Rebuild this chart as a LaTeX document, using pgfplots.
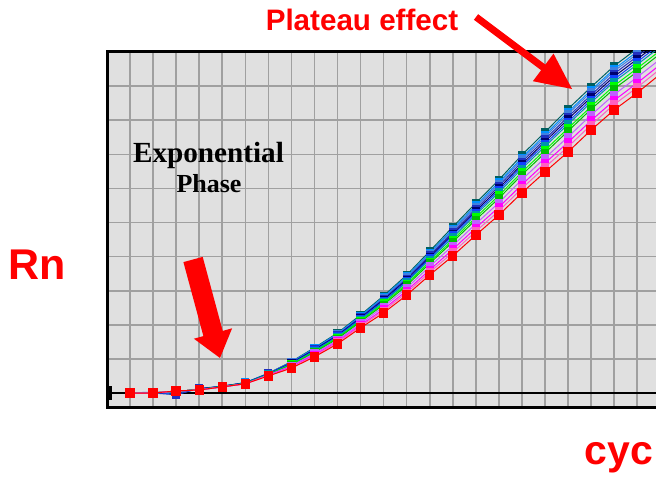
\documentclass[border=0pt]{standalone}
\usepackage{fontspec}
\setmainfont{Liberation Serif}
\newfontfamily\arial{Liberation Sans}
\usepackage{pgfplots}
\pgfplotsset{compat=1.18}
\definecolor{bgray}{RGB}{224,224,224}
\definecolor{ggray}{RGB}{160,160,160}
\definecolor{cteal}{RGB}{0,96,96}
\definecolor{csky}{RGB}{0,144,255}
\definecolor{ccorn}{RGB}{64,128,224}
\definecolor{cblue}{RGB}{32,48,192}
\definecolor{cnavy}{RGB}{0,0,112}
\definecolor{croyal}{RGB}{16,64,255}
\definecolor{ccyan}{RGB}{0,150,170}
\definecolor{clime}{RGB}{0,255,0}
\definecolor{cgreen}{RGB}{0,192,0}
\definecolor{cviolet}{RGB}{192,96,255}
\definecolor{cmag}{RGB}{255,0,255}
\definecolor{cpink}{RGB}{255,96,192}
\definecolor{cred}{RGB}{255,0,0}
\begin{document}
\begin{tikzpicture}
\useasboundingbox (0,0) rectangle (328pt,238pt);
\clip (0,0) rectangle (328pt,238pt);
\begin{axis}[
  at={(53.5pt,34.5pt)}, anchor=south west,
  scale only axis, width=282.36pt, height=177.5pt,
  xmin=0, xmax=24.5, ymin=-0.41, ymax=10,
  xtick={0,...,24}, ytick={0,...,10},
  xticklabels={}, yticklabels={},
  major tick length=0pt,
  grid=major,
  grid style={ggray, line width=0.8pt},
  axis background/.style={fill=bgray},
  axis line style={black, line width=1.5pt},
  every axis plot/.append style={line width=0.5pt, mark=square*, mark size=1.8pt},
  clip=true,
]
\draw[black, line width=1pt] (axis cs:0,0) -- (axis cs:24.5,0);
\fill[black] (axis cs:0,-0.2) rectangle (axis cs:0.2,0.2);
\addplot[cteal, mark options={fill=cteal, draw=cteal}] coordinates {(1,0.00)(2,0.01)(3,0.03)(4,0.12)(5,0.20)(6,0.30)(7,0.58)(8,0.92)(9,1.33)(10,1.76)(11,2.29)(12,2.85)(13,3.46)(14,4.16)(15,4.87)(16,5.57)(17,6.25)(18,6.98)(19,7.65)(20,8.33)(21,8.97)(22,9.59)(23,10.10)(24,10.60)};
\addplot[csky, mark options={fill=csky, draw=csky}] coordinates {(1,0.01)(2,0.02)(3,-0.04)(4,0.13)(5,0.19)(6,0.31)(7,0.57)(8,0.91)(9,1.31)(10,1.74)(11,2.26)(12,2.82)(13,3.42)(14,4.11)(15,4.81)(16,5.50)(17,6.18)(18,6.90)(19,7.57)(20,8.24)(21,8.88)(22,9.50)(23,10.01)(24,10.51)};
\addplot[ccorn, mark options={fill=ccorn, draw=ccorn}] coordinates {(1,0.00)(2,0.01)(3,0.02)(4,0.12)(5,0.20)(6,0.30)(7,0.57)(8,0.90)(9,1.30)(10,1.72)(11,2.24)(12,2.79)(13,3.39)(14,4.08)(15,4.77)(16,5.46)(17,6.13)(18,6.85)(19,7.51)(20,8.18)(21,8.82)(22,9.44)(23,9.94)(24,10.45)};
\addplot[cblue, mark options={fill=cblue, draw=cblue}] coordinates {(1,0.00)(2,0.00)(3,-0.05)(4,0.14)(5,0.19)(6,0.29)(7,0.57)(8,0.89)(9,1.28)(10,1.70)(11,2.22)(12,2.76)(13,3.35)(14,4.03)(15,4.72)(16,5.40)(17,6.07)(18,6.78)(19,7.44)(20,8.10)(21,8.74)(22,9.36)(23,9.87)(24,10.38)};
\addplot[cnavy, mark options={fill=cnavy, draw=cnavy}] coordinates {(1,0.00)(2,0.01)(3,0.04)(4,0.11)(5,0.20)(6,0.30)(7,0.56)(8,0.87)(9,1.27)(10,1.68)(11,2.20)(12,2.73)(13,3.32)(14,3.99)(15,4.67)(16,5.34)(17,6.00)(18,6.71)(19,7.37)(20,8.03)(21,8.67)(22,9.28)(23,9.79)(24,10.30)};
\addplot[croyal, mark options={fill=croyal, draw=croyal}] coordinates {(1,0.00)(2,0.00)(3,0.03)(4,0.10)(5,0.19)(6,0.29)(7,0.56)(8,0.86)(9,1.25)(10,1.66)(11,2.18)(12,2.70)(13,3.28)(14,3.95)(15,4.62)(16,5.29)(17,5.94)(18,6.65)(19,7.30)(20,7.95)(21,8.59)(22,9.20)(23,9.71)(24,10.23)};
\addplot[ccyan, mark options={fill=ccyan, draw=ccyan}] coordinates {(1,0.00)(2,0.01)(3,0.04)(4,0.11)(5,0.19)(6,0.28)(7,0.55)(8,0.85)(9,1.23)(10,1.65)(11,2.15)(12,2.67)(13,3.25)(14,3.91)(15,4.56)(16,5.23)(17,5.88)(18,6.58)(19,7.23)(20,7.88)(21,8.52)(22,9.13)(23,9.63)(24,10.15)};
\addplot[clime, mark options={fill=clime, draw=clime}] coordinates {(1,0.00)(2,0.00)(3,0.05)(4,0.10)(5,0.19)(6,0.28)(7,0.54)(8,0.84)(9,1.21)(10,1.62)(11,2.12)(12,2.63)(13,3.20)(14,3.85)(15,4.49)(16,5.15)(17,5.79)(18,6.48)(19,7.12)(20,7.76)(21,8.40)(22,9.01)(23,9.52)(24,10.04)};
\addplot[cgreen, mark options={fill=cgreen, draw=cgreen}] coordinates {(1,0.00)(2,0.00)(3,0.05)(4,0.10)(5,0.18)(6,0.28)(7,0.54)(8,0.82)(9,1.19)(10,1.59)(11,2.09)(12,2.59)(13,3.15)(14,3.80)(15,4.43)(16,5.08)(17,5.71)(18,6.40)(19,7.04)(20,7.68)(21,8.32)(22,8.92)(23,9.42)(24,9.95)};
\addplot[cviolet, mark options={fill=cviolet, draw=cviolet}] coordinates {(1,0.00)(2,0.00)(3,0.05)(4,0.09)(5,0.18)(6,0.27)(7,0.53)(8,0.80)(9,1.16)(10,1.55)(11,2.04)(12,2.53)(13,3.08)(14,3.71)(15,4.32)(16,4.96)(17,5.58)(18,6.26)(19,6.89)(20,7.51)(21,8.15)(22,8.75)(23,9.26)(24,9.79)};
\addplot[cmag, mark options={fill=cmag, draw=cmag}] coordinates {(1,0.00)(2,0.00)(3,0.06)(4,0.09)(5,0.18)(6,0.27)(7,0.52)(8,0.77)(9,1.12)(10,1.51)(11,1.99)(12,2.46)(13,3.00)(14,3.61)(15,4.21)(16,4.84)(17,5.45)(18,6.11)(19,6.74)(20,7.35)(21,7.99)(22,8.58)(23,9.09)(24,9.63)};
\addplot[cpink, mark options={fill=cpink, draw=cpink}] coordinates {(1,0.00)(2,0.00)(3,0.06)(4,0.09)(5,0.18)(6,0.27)(7,0.51)(8,0.75)(9,1.09)(10,1.48)(11,1.96)(12,2.41)(13,2.94)(14,3.54)(15,4.12)(16,4.74)(17,5.34)(18,6.00)(19,6.62)(20,7.22)(21,7.86)(22,8.46)(23,8.96)(24,9.50)};
\addplot[cred, mark size=2.1pt, mark options={fill=cred, draw=cred}] coordinates {(1,0.00)(2,0.00)(3,0.06)(4,0.09)(5,0.18)(6,0.27)(7,0.50)(8,0.73)(9,1.06)(10,1.44)(11,1.91)(12,2.35)(13,2.87)(14,3.46)(15,4.02)(16,4.63)(17,5.22)(18,5.87)(19,6.48)(20,7.07)(21,7.71)(22,8.30)(23,8.80)(24,9.35)};
\end{axis}
\begin{scope}[x=0.5pt,y=0.5pt]
% texts
\node[anchor=base, inner sep=0pt, text=cred, font=\arial\bfseries\fontsize{14.8pt}{17pt}\selectfont] at (362,445) {Plateau effect};
\node[anchor=base west, inner sep=0pt, text=cred, font=\arial\bfseries\fontsize{21.5pt}{24pt}\selectfont] at (8,197) {Rn};
\node[anchor=base west, inner sep=0pt, text=cred, font=\arial\bfseries\fontsize{20.5pt}{24pt}\selectfont] at (584,12) {cyc};
\node[anchor=base, inner sep=0pt, text=black, font=\bfseries\fontsize{14.6pt}{16pt}\selectfont] at (208.5,313) {Exponential};
\node[anchor=base, inner sep=0pt, text=black, font=\bfseries\fontsize{13pt}{15pt}\selectfont] at (209,283) {Phase};
% big arrow
\fill[cred] (183.4,213.9) -- (203.4,139.9) -- (193.9,137.3) -- (220,118) -- (232.1,147.7) -- (222.7,145.1) -- (202.7,219.1) -- cycle;
% plateau arrow
\fill[cred] (473.9,456.2) -- (541.1,405.8) -- (532.9,394.8) -- (572,387) -- (553.5,422.4) -- (545.3,411.4) -- (478.1,461.8) -- cycle;
\end{scope}
\end{tikzpicture}
\end{document}
